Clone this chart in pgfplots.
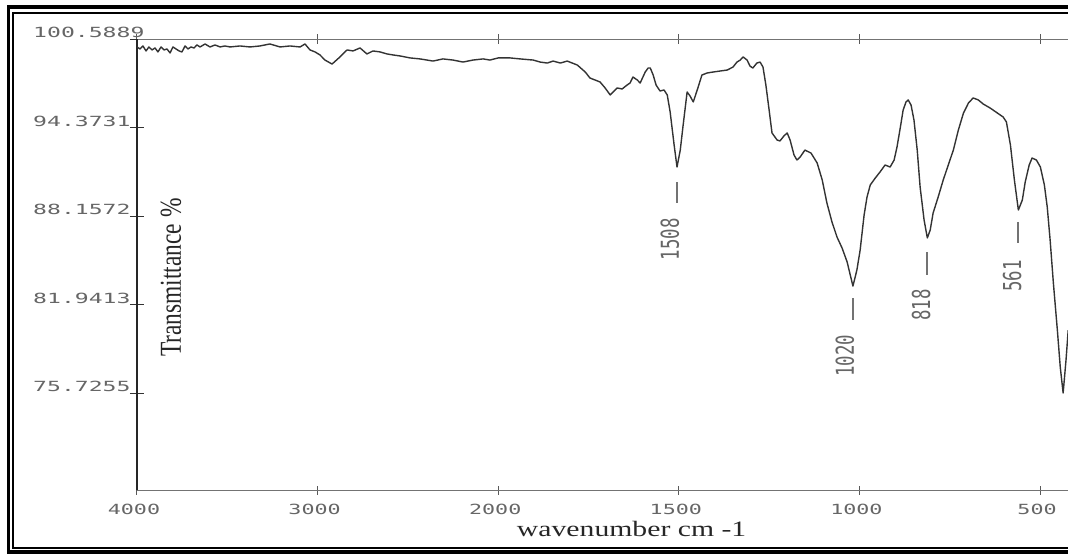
\documentclass[border=0pt]{standalone}
\usepackage{fontspec}
\setmainfont{Liberation Serif}
\newfontfamily\monof{DejaVu Sans Mono}
\usepackage{pgfplots}
\usepackage{pgfplotstable}
\pgfplotsset{compat=1.18}

% IR spectrum: wavenumber (cm^-1), transmittance (%)
\pgfplotstableread{
w T
4000 100.03
3983 99.89
3967 100.10
3950 99.75
3934 100.03
3917 99.82
3900 99.96
3884 99.68
3867 100.03
3850 99.82
3834 99.89
3817 99.61
3801 100.03
3784 99.89
3767 99.75
3751 99.68
3734 100.10
3718 99.89
3701 100.03
3684 99.96
3668 100.17
3651 100.03
3623 100.24
3596 100.03
3568 100.17
3540 100.03
3513 100.10
3485 100.03
3430 100.10
3374 100.03
3319 100.10
3264 100.24
3208 100.03
3153 100.10
3097 100.03
3070 100.24
3042 99.82
3014 99.68
2987 99.47
2959 99.11
2920 98.83
2876 99.33
2837 99.82
2804 99.75
2765 99.96
2727 99.54
2693 99.75
2654 99.68
2616 99.54
2583 99.47
2544 99.40
2488 99.26
2433 99.19
2361 99.04
2306 99.19
2250 99.11
2195 98.97
2140 99.11
2084 99.19
2046 99.11
2000 99.26
1994 99.26
1967 99.26
1939 99.19
1903 99.11
1884 98.97
1864 98.90
1848 99.04
1828 98.90
1809 99.04
1781 98.76
1759 98.27
1746 97.85
1732 97.71
1718 97.57
1704 97.15
1690 96.66
1679 96.94
1671 97.15
1657 97.08
1643 97.36
1635 97.50
1627 97.92
1615 97.71
1607 97.50
1593 98.27
1585 98.55
1579 98.55
1571 98.06
1563 97.36
1552 96.94
1541 97.01
1532 96.66
1524 95.46
1513 93.15
1505 91.60
1496 92.79
1488 94.55
1477 96.87
1469 96.59
1460 96.17
1449 97.01
1436 98.06
1422 98.20
1405 98.27
1386 98.34
1366 98.41
1350 98.62
1339 98.97
1330 99.11
1322 99.33
1311 99.11
1303 98.69
1295 98.55
1284 98.90
1275 98.97
1267 98.62
1259 97.36
1250 95.60
1242 93.99
1228 93.50
1220 93.43
1209 93.78
1200 93.99
1192 93.50
1181 92.44
1173 92.09
1164 92.30
1151 92.79
1134 92.58
1117 91.88
1103 90.69
1090 89.07
1076 87.74
1062 86.68
1048 85.91
1034 84.93
1018 83.24
1007 84.37
998 85.77
987 88.23
979 89.49
970 90.34
956 90.83
943 91.25
929 91.74
915 91.60
904 92.09
896 93.00
887 94.34
879 95.60
871 96.17
865 96.31
857 95.95
849 94.90
840 92.79
832 90.20
821 87.88
812 86.62
804 87.18
796 88.37
782 89.49
768 90.69
754 91.74
740 92.79
726 94.20
712 95.39
698 96.10
685 96.45
671 96.31
657 96.02
638 95.74
618 95.39
602 95.11
593 94.76
582 93.15
571 90.69
560 88.58
549 89.28
541 90.55
530 91.74
522 92.23
510 92.09
499 91.60
488 90.34
480 88.79
472 86.47
463 83.45
452 80.15
444 77.56
436 75.73
428 78.05
422 80.15
}\spectrum

\begin{document}
\begin{tikzpicture}[x=1pt,y=1pt]
\begin{axis}[
  scale only axis, width=935pt, height=451pt,
  xmin=0, xmax=5.177, ymin=68.92, ymax=100.5889,
  separate axis lines,
  every outer x axis line/.append style={black!55, line width=1pt},
  every outer y axis line/.append style={black!85, line width=1.4pt},
  xtick={0,1,2,3,4,5},
  xticklabels={4000,3000,2000,1500,1000,500},
  ytick={75.7255,81.9413,88.1572,94.3731,100.5889},
  yticklabels={75.7255,81.9413,88.1572,94.3731,100.5889},
  tick align=center,
  xtick pos=both, ytick pos=left,
  xtick style={black!65, line width=1pt, /pgfplots/major tick length=9pt},
  ytick style={black!80, line width=1pt, /pgfplots/major tick length=14pt},
  xticklabel style={inner sep=0pt, anchor=north, yshift=-12pt, xshift=-3pt,
    text=black!60, font=\monof\fontsize{14}{14}\selectfont, xscale=1.55},
  yticklabel style={inner sep=0pt, anchor=south west, xshift=-102pt, yshift=1pt,
    text=black!60, font=\monof\fontsize{14}{14}\selectfont, xscale=1.65},
  xlabel={wavenumber cm -1},
  every axis x label/.style={at={(axis description cs:0.529,-0.104)}, anchor=base,
    inner sep=0pt, font=\fontsize{22}{22}\selectfont, xscale=1.35, text=black!85},
  ylabel={Transmittance \%},
  every axis y label/.style={at={(axis description cs:0.0364,0.471)}, anchor=center,
    inner sep=0pt, rotate=90, yscale=1.3, font=\fontsize{23.4}{23.4}\selectfont, text=black!85},
]
\addplot[black!80, line width=1.4pt, line join=round]
  table[x expr={\thisrow{w}>1999.5 ? (4000-\thisrow{w})/1000 : 2+(2000-\thisrow{w})/500}, y=T] {\spectrum};
% peak annotations
\tikzset{pk/.style={inner sep=0pt, rotate=90, yscale=1.42, text=black!60,
  font=\monof\fontsize{17.4}{17.4}\selectfont},
  pl/.style={black!55, line width=2pt}}
\draw[pl] (axis cs:2.990,90.547) -- (axis cs:2.990,89.072);
\node[pk] at (axis cs:2.951,86.54) {1508};
\draw[pl] (axis cs:3.965,82.40) -- (axis cs:3.965,80.86);
\node[pk] at (axis cs:3.920,78.33) {1020};
\draw[pl] (axis cs:4.374,85.63) -- (axis cs:4.374,84.016);
\node[pk] at (axis cs:4.341,81.91) {818};
\draw[pl] (axis cs:4.878,87.74) -- (axis cs:4.878,86.26);
\node[pk] at (axis cs:4.845,83.95) {561};
\coordinate (O) at (axis cs:0,68.92);
\end{axis}
\pgfresetboundingbox
\begin{scope}[shift={(O)}, xshift=-137pt, yshift=-65pt]
\useasboundingbox (0,0) rectangle (1068,555);
% double frame
\draw[line width=3.5pt] (1072,548) -- (8.5,548) -- (8.5,3) -- (1072,3);
\draw[line width=2pt] (1072,542) -- (13.5,542) -- (13.5,7) -- (1072,7);
\end{scope}
\end{tikzpicture}
\end{document}
